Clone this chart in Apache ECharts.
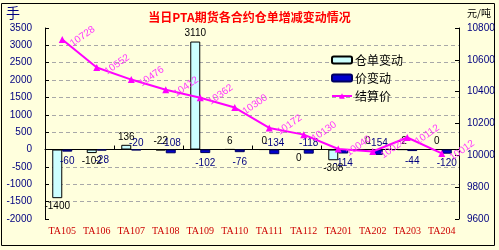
<!DOCTYPE html>
<html><head><meta charset="utf-8">
<script src="https://cdn.jsdelivr.net/npm/echarts@6/dist/echarts.min.js"></script>
<style>html,body{margin:0;padding:0;background:#fff;}#c{width:499px;height:250px;}</style>
</head><body><div id="c"></div>
<script>
const categories = ['TA105','TA106','TA107','TA108','TA109','TA110','TA111','TA112','TA201','TA202','TA203','TA204'];
const warehouseChange = [-1400, -102, 136, -22, 3110, 6, 0, 0, -308, 0, -2, 0];
const priceChange = [-60, -28, -20, -108, -102, -76, -134, -118, -114, -154, -44, -120];
const settlePrice = [10728, 10552, 10476, 10412, 10362, 10300, 10172, 10130, 10040, 10024, 10112, 10012];
const titleText = '当日PTA期货各合约仓单增减变动情况';
const seriesNames = ['仓单变动', '价变动', '结算价'];

// label placement (style only)
const whBelow = new Set([0, 1, 7, 8]);
const prAbove = new Set([2, 3, 6, 7, 9]);

const chart = echarts.init(document.getElementById('c'), null, {renderer: 'canvas'});
const numFont = 'Liberation Sans';
const cjk = '"Noto Sans CJK SC"';
const plain = v => String(v);

chart.setOption({
  backgroundColor: '#FFFFDD',
  animation: false,
  title: {
    text: titleText, left: 'center', top: 6,
    textStyle: {color: '#FF0000', fontSize: 12, fontWeight: 'bold', fontFamily: cjk}
  },
  graphic: [
    {type: 'rect', shape: {x: 1.5, y: 3.5, width: 493, height: 242}, style: {fill: null, stroke: '#000', lineWidth: 1}, silent: true},
    {type: 'text', left: 6, top: 6, style: {text: '手', fill: '#000080', font: '14px ' + cjk}},
    {type: 'text', left: 467, top: 8, style: {text: '元/吨', fill: '#000', font: '10px ' + cjk}}
  ],
  legend: {
    orient: 'vertical', left: 326, top: 49, itemWidth: 20, itemHeight: 7, itemGap: 6,
    textStyle: {color: '#000', fontSize: 12, fontFamily: cjk, padding: [0,0,0,-2]},
    data: seriesNames
  },
  grid: {left: 45, right: 40, top: 28, bottom: 31},
  xAxis: [
    {type: 'category', data: categories, position: 'bottom',
      axisLine: {show: false, onZero: false}, axisTick: {show: false},
      axisLabel: {interval: 0, color: '#CC0000', fontSize: 10, fontFamily: 'Liberation Serif', margin: 7}},
    {type: 'category', data: categories, position: 'bottom',
      axisLine: {show: true, onZero: true, onZeroAxisIndex: 0, lineStyle: {color: '#000', width: 1}},
      axisTick: {show: true, inside: true, length: 4, lineStyle: {color: '#000'}},
      axisLabel: {show: false}, splitLine: {show: false}}
  ],
  yAxis: [
    {type: 'value', min: -2000, max: 3500, interval: 500,
      axisLine: {show: true, lineStyle: {color: '#000'}},
      axisTick: {show: true, inside: true, length: 4, lineStyle: {color: '#000'}},
      axisLabel: {formatter: plain, color: '#000080', fontSize: 10, fontFamily: numFont, margin: 13},
      splitLine: {show: true, showMinLine: false, showMaxLine: false, lineStyle: {color: '#A8A8A8', type: [4, 3]}}},
    {type: 'value', min: 9600, max: 10800, interval: 200,
      axisLine: {show: true, lineStyle: {color: '#000'}},
      axisTick: {show: true, inside: true, length: 4, lineStyle: {color: '#000'}},
      axisLabel: {formatter: plain, color: '#000080', fontSize: 10, fontFamily: numFont, margin: 8},
      splitLine: {show: false}}
  ],
  series: [
    {name: seriesNames[0], type: 'bar', yAxisIndex: 0, barWidth: 10, barGap: '0%',
      itemStyle: {color: '#CCFFFF', borderColor: '#000', borderWidth: 1},
      data: warehouseChange.map((v, i) => ({value: v, label: {
        show: true, position: whBelow.has(i) ? 'bottom' : 'top', distance: 3, formatter: '{c}',
        color: '#000', fontSize: 10, fontFamily: numFont}}))},
    {name: seriesNames[1], type: 'bar', yAxisIndex: 0, barWidth: 10, barGap: '0%',
      itemStyle: {color: '#0000CC', borderColor: '#000060', borderWidth: 1},
      data: priceChange.map((v, i) => ({value: v, label: {
        show: true, position: prAbove.has(i) ? 'top' : 'bottom', distance: prAbove.has(i) ? 1 : 5, formatter: '{c}',
        color: '#000080', fontSize: 10, fontFamily: numFont}}))},
    {name: seriesNames[2], type: 'line', yAxisIndex: 1,
      symbol: 'triangle', symbolSize: 7,
      lineStyle: {color: '#FF00FF', width: 2},
      itemStyle: {color: '#FF00FF'},
      label: {show: true, position: 'right', rotate: 35, distance: 2, offset: [0, 6], formatter: '{c}',
        color: '#FF33FF', fontSize: 10, fontFamily: numFont},
      data: settlePrice}
  ]
});
</script></body></html>
